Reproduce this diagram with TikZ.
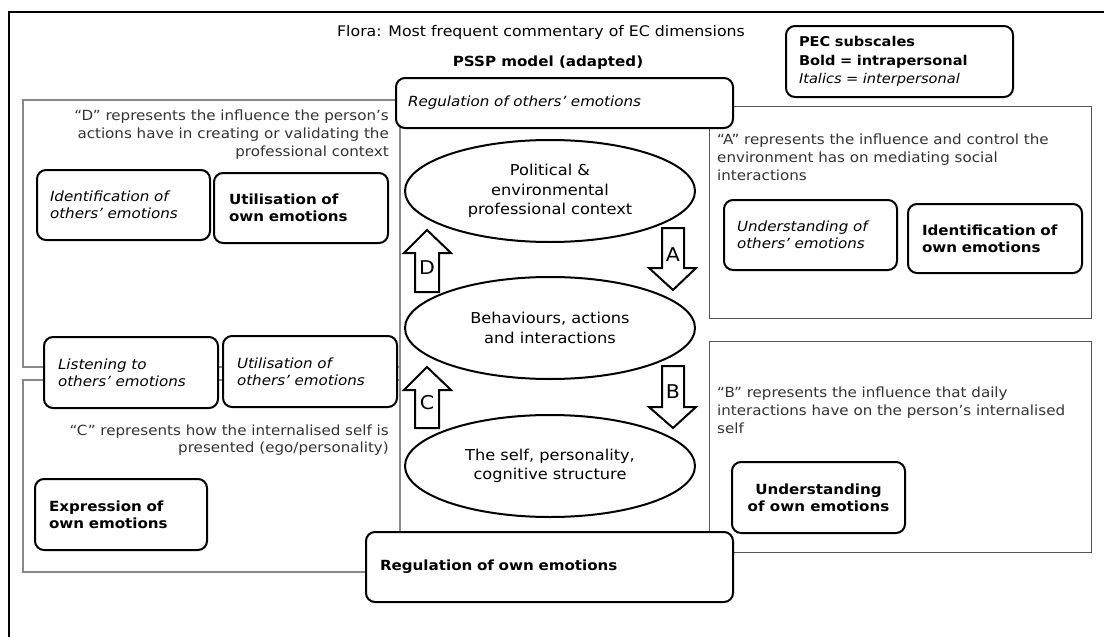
\documentclass[tikz,border=0pt]{standalone}
\usepackage{fontspec}
\setmainfont{DejaVu Sans}[FakeStretch=1.08]
\usetikzlibrary{shapes.geometric}
\definecolor{desc}{HTML}{333333}
\definecolor{panelgray}{HTML}{8A8A8A}
\definecolor{paneldark}{HTML}{555555}
\tikzset{
  x=1pt, y=-1pt,
  panel/.style={draw=panelgray, line width=1.2pt},
  panelB/.style={draw=paneldark, line width=1pt},
  pecbox/.style={draw, line width=2pt, rounded corners=9pt, inner sep=0pt, fill=white,
    font=\fontsize{14}{17}\selectfont},
  ctx/.style={draw, ellipse, line width=2pt, fill=white, inner sep=0pt,
    minimum width=290pt, minimum height=102pt, align=center,
    font=\fontsize{15}{19.5}\selectfont},
  desctext/.style={inner sep=0pt, text=desc, font=\fontsize{14}{18}\selectfont},
  blockarrow/.style={draw, line width=2pt, fill=white, line join=miter},
  arrowlabel/.style={inner sep=0pt, font=\fontsize{19}{19}\selectfont}
}
\begin{document}
\begin{tikzpicture}
\useasboundingbox (0,0) rectangle (1104,637);
% outer frame
\draw[line width=2pt] (1104,12) -- (9,12) -- (9,637);

% panels
\draw[panel] (23,100) rectangle (400,367);
\draw[panel] (23,380) rectangle (400,572);
\draw[panel] (400,367) -- (400,380);
\draw[panelB] (709,106) rectangle (1091,318);
\draw[panelB] (709,341) rectangle (1091,552);

% headings
\node[inner sep=0pt, font=\fontsize{14.6}{17}\selectfont] (title) at (541,32)
  {Flora: Most frequent commentary of EC dimensions};
\node[inner sep=0pt, font=\fontsize{14}{17}\selectfont\bfseries] (pssp) at (548,63)
  {PSSP model (adapted)};

% legend
\node[pecbox, minimum width=227pt, minimum height=71pt, text width=201pt, align=left,
  font=\fontsize{13.5}{18.5}\selectfont] (legend) at (899.5,61.5)
  {\textbf{PEC subscales}\\\textbf{Bold = intrapersonal}\\\textit{Italics = interpersonal}};

% central model
\node[ctx] (context) at (550,191) {Political \&\\environmental\\professional context};
\node[ctx] (behav) at (550,328) {Behaviours, actions\\and interactions};
\node[ctx] (self) at (550,466) {The self, personality,\\cognitive structure};

% influence arrows
\draw[blockarrow] (415,292) -- (415,253) -- (404,253) -- (427,230) -- (451,253) -- (439,253) -- (439,292) -- cycle;
\node[arrowlabel] (lD) at (427,268) {D};
\draw[blockarrow] (662,228) -- (684,228) -- (684,268) -- (696,268) -- (673,290) -- (649,268) -- (662,268) -- cycle;
\node[arrowlabel] (lA) at (673,255) {A};
\draw[blockarrow] (415,428) -- (415,390) -- (404,390) -- (427,367) -- (451,390) -- (439,390) -- (439,428) -- cycle;
\node[arrowlabel] (lC) at (427,403) {C};
\draw[blockarrow] (662,366) -- (684,366) -- (684,407) -- (696,407) -- (673,428) -- (649,407) -- (662,407) -- cycle;
\node[arrowlabel] (lB) at (673,392) {B};

% descriptions
\node[desctext, align=right, anchor=east] (dD) at (389,135)
  {“D” represents the influence the person’s\\actions have in creating or validating the\\professional context};
\node[desctext, align=left, anchor=west] (dA) at (717,157)
  {“A” represents the influence and control the\\environment has on mediating social\\interactions};
\node[desctext, align=right, anchor=east, font=\fontsize{14}{17}\selectfont] (dC) at (389,440)
  {“C” represents how the internalised self is\\presented (ego/personality)};
\node[desctext, align=left, anchor=west] (dB) at (717,410)
  {“B” represents the influence that daily\\interactions have on the person’s internalised\\self};

% PEC subscale boxes
\node[pecbox, minimum width=337pt, minimum height=50pt, text width=313pt, align=left] (regoth) at (564.5,103)
  {\textit{Regulation of others’ emotions}};
\node[pecbox, minimum width=173pt, minimum height=70pt, text width=147pt, align=left] (idoth) at (123.5,205)
  {\itshape Identification of\\others’ emotions};
\node[pecbox, minimum width=174pt, minimum height=70pt, text width=144pt, align=left] (utown) at (301,208)
  {\bfseries Utilisation of\\own emotions};
\node[pecbox, minimum width=173pt, minimum height=70pt, text width=147pt, align=left] (unoth) at (810.5,235)
  {\itshape Understanding of\\others’ emotions};
\node[pecbox, minimum width=174pt, minimum height=69pt, text width=146pt, align=left] (idown) at (995,238.5)
  {\bfseries Identification of\\own emotions};
\node[pecbox, minimum width=174pt, minimum height=71pt, text width=146pt, align=left] (listen) at (131,372.5)
  {\itshape Listening to\\others’ emotions};
\node[pecbox, minimum width=174pt, minimum height=71pt, text width=146pt, align=left] (utoth) at (310,371.5)
  {\itshape Utilisation of\\others’ emotions};
\node[pecbox, minimum width=172pt, minimum height=71pt, text width=144pt, align=left] (expr) at (121,514.5)
  {\bfseries Expression of\\own emotions};
\node[pecbox, minimum width=173pt, minimum height=71pt, align=center,
  font=\fontsize{14}{17}\selectfont\bfseries] (unown) at (818.5,497.5)
  {Understanding\\of own emotions};
\node[pecbox, minimum width=367pt, minimum height=70pt, text width=339pt, align=left] (regown) at (549.5,567)
  {\bfseries Regulation of own emotions};
\end{tikzpicture}
\end{document}
